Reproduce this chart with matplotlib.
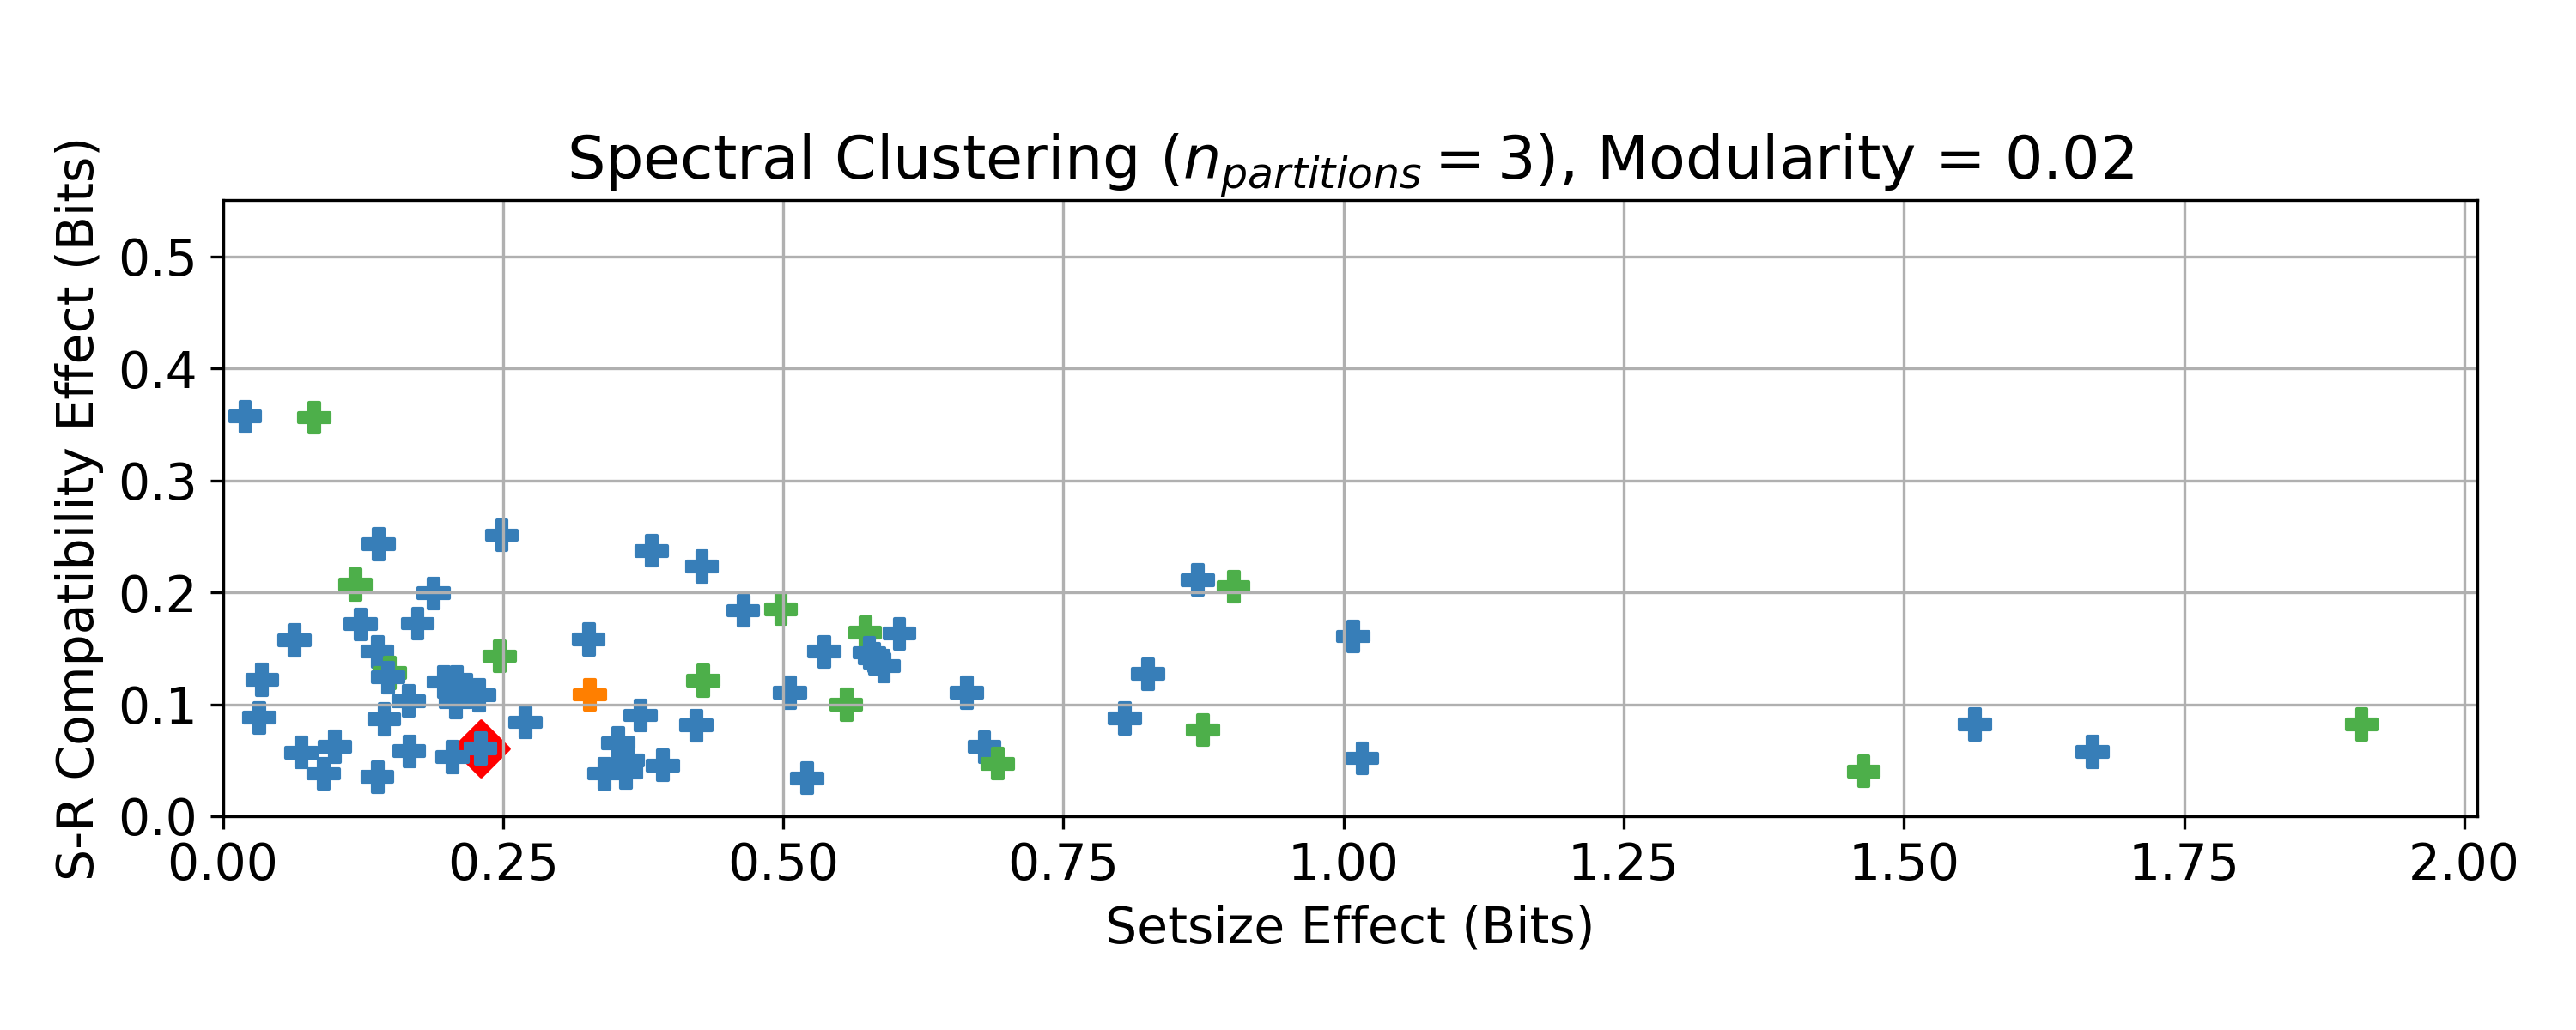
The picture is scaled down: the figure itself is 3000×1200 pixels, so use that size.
import numpy as np
import matplotlib.pyplot as plt

plt.rcParams['font.size'] = 14

# -----------------------
# Data
# -----------------------
setsize_effect = [
    0.020, 0.0815, 0.139, 0.249, 0.1185, 0.188, 0.123, 0.174, 0.064, 0.138,
    0.149, 0.1474, 0.035, 0.166, 0.197, 0.2085, 0.208, 0.229, 0.2175, 0.0325,
    0.144, 0.270, 0.247, 0.3265, 0.3275, 0.070, 0.100, 0.090, 0.138, 0.1665,
    0.205, 0.230, 0.3826, 0.4276, 0.4644, 0.498, 0.4286, 0.506, 0.5565, 0.5366,
    0.5732, 0.6038, 0.577, 0.5815, 0.590, 0.3727, 0.4225, 0.3527, 0.3405, 0.3617,
    0.3596, 0.3926, 0.5213, 0.6638, 0.6797, 0.6914, 0.870, 0.902, 0.8257, 0.8048,
    0.8745, 1.0086, 1.0168, 1.4642, 1.5633, 1.6683, 1.9086,
]
sr_effect = [
    0.357, 0.356, 0.243, 0.251, 0.207, 0.199, 0.1715, 0.172, 0.157, 0.147,
    0.128, 0.124, 0.122, 0.103, 0.120, 0.120, 0.102, 0.108, 0.113, 0.088,
    0.0865, 0.084, 0.143, 0.158, 0.1085, 0.057, 0.062, 0.038, 0.035, 0.058,
    0.053, 0.0605, 0.237, 0.223, 0.1836, 0.185, 0.121, 0.1105, 0.0996, 0.147,
    0.164, 0.163, 0.146, 0.1406, 0.134, 0.090, 0.081, 0.0654, 0.038, 0.050,
    0.039, 0.0454, 0.034, 0.1105, 0.0618, 0.047, 0.211, 0.205, 0.127, 0.0873,
    0.077, 0.1606, 0.0517, 0.040, 0.082, 0.0575, 0.082,
]
cluster = [
    0, 1, 0, 0, 1, 0, 0, 0, 0, 0,
    1, 0, 0, 0, 0, 0, 0, 0, 0, 0,
    0, 0, 1, 0, 2, 0, 0, 0, 0, 0,
    0, 0, 0, 0, 0, 1, 1, 0, 1, 0,
    1, 0, 0, 0, 0, 0, 0, 0, 0, 0,
    0, 0, 0, 0, 0, 1, 0, 1, 0, 0,
    1, 0, 0, 1, 0, 0, 1,
]
highlight = (0.230, 0.0605)

cluster_colors = ['#377eb8', '#4daf4a', '#ff7f00']
n_partitions = 3
modularity = 0.02

# -----------------------
# Plot
# -----------------------
fig = plt.figure(figsize=(10, 4), dpi=300)
ax = fig.add_axes([0.0865, 0.2075, 0.8751, 0.598])

ax.scatter([highlight[0]], [highlight[1]], marker='D', s=120, color='red')
ax.scatter(setsize_effect, sr_effect, marker='P', s=72,
           c=[cluster_colors[k] for k in cluster])

ax.set_xlim(0, 2.0115)
ax.set_ylim(0, 0.55)
ax.grid(True)
ax.set_xlabel('Setsize Effect (Bits)')
ax.set_ylabel('S-R Compatibility Effect (Bits)')
ax.set_title(r'Spectral Clustering ($n_{partitions} = %d$), Modularity = %.2f'
             % (n_partitions, modularity))

fig.savefig('out.png', dpi=300)
